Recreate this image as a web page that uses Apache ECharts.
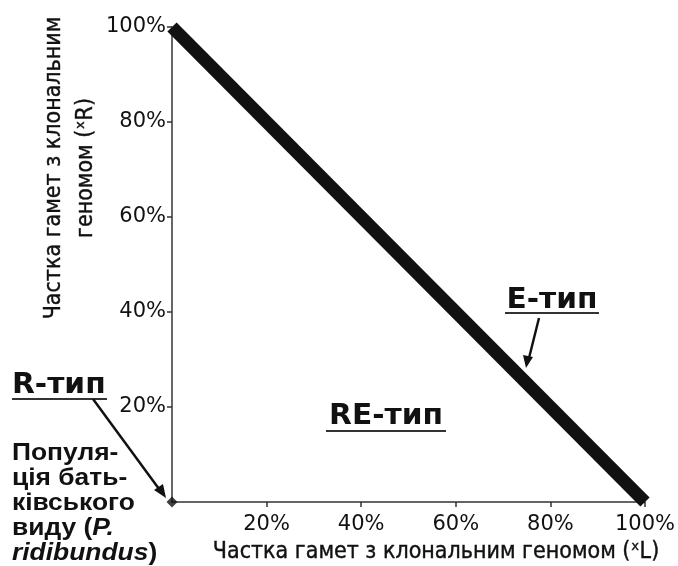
<!DOCTYPE html>
<html>
<head>
<meta charset="utf-8">
<script src="https://cdn.jsdelivr.net/npm/echarts@6/dist/echarts.min.js"></script>
<style>
  html, body { margin: 0; padding: 0; background: #fff; }
  #chart { width: 678px; height: 566px; }
</style>
</head>
<body>
<div id="chart"></div>
<script>
// Дані
const eLineX = [0, 100];
const eLineY = [100, 0];
const parentPoint = [0, 0];

const xAxisName = "Частка гамет з клональним геномом (ˣL)";
const yAxisLines = ["Частка гамет з клональним", "геномом (ˣR)"];

const condensed = "'Liberation Sans Narrow', 'DejaVu Sans Condensed', 'Arial Narrow', sans-serif";
const sans = "'Liberation Sans', Arial, Helvetica, sans-serif";
const wide = "'DejaVu Sans', Verdana, sans-serif";
const ink = "#111";

const chart = echarts.init(document.getElementById("chart"), null, { renderer: "canvas" });

// підпис-назва типу (жирний)
const typeLabel = (text, x, y, align) => ({
  type: "text",
  x: x,
  y: y,
  scaleX: 1.06,
  style: {
    text: text,
    font: "bold 28px " + wide,
    fill: ink,
    align: align,
    verticalAlign: "middle",
  },
});

const option = {
  animation: false,
  grid: {
    left: 172,
    right: 33,
    top: 27,
    bottom: 64,
    outerBoundsMode: "none",
  },
  xAxis: {
    type: "value",
    min: 0,
    max: 100,
    interval: 20,
    axisLine: { lineStyle: { color: "#333", width: 1.5 } },
    axisTick: { show: true, length: 5, lineStyle: { color: "#333", width: 1.5 } },
    splitLine: { show: false },
    axisLabel: {
      showMinLabel: false,
      formatter: "{value}%",
      color: ink,
      fontFamily: wide,
      fontSize: 21,
      margin: 12,
    },
  },
  yAxis: {
    type: "value",
    min: 0,
    max: 100,
    interval: 20,
    axisLine: { lineStyle: { color: "#333", width: 1.5 } },
    axisTick: { show: true, length: 5, lineStyle: { color: "#333", width: 1.5 } },
    splitLine: { show: false },
    axisLabel: {
      showMinLabel: false,
      formatter: "{value}%",
      color: ink,
      fontFamily: wide,
      fontSize: 21,
      margin: 6,
    },
  },
  series: [
    {
      // межа E-типу
      type: "line",
      data: eLineX.map((x, i) => [x, eLineY[i]]),
      symbol: "none",
      lineStyle: { color: "#111", width: 13, cap: "butt" },
      z: 3,
    },
    {
      // популяція батьківського виду
      type: "scatter",
      data: [parentPoint],
      symbol: "diamond",
      symbolSize: 11,
      itemStyle: { color: "#111" },
      z: 4,
    },
  ],
  graphic: [
    // назва осі Y (два рядки, повернуті)
    {
      type: "text",
      x: 54,
      y: 168,
      rotation: Math.PI / 2,
      style: {
        text: yAxisLines[0],
        font: "23px " + condensed,
        fill: ink,
        stroke: ink,
        lineWidth: 0.4,
        align: "center",
        verticalAlign: "middle",
      },
    },
    {
      type: "text",
      x: 86,
      y: 168,
      rotation: Math.PI / 2,
      style: {
        text: yAxisLines[1],
        font: "23px " + condensed,
        fill: ink,
        stroke: ink,
        lineWidth: 0.4,
        align: "center",
        verticalAlign: "middle",
      },
    },
    // назва осі X
    {
      type: "text",
      x: 436,
      y: 552,
      style: {
        text: xAxisName,
        font: "23px " + condensed,
        fill: ink,
        stroke: ink,
        lineWidth: 0.4,
        align: "center",
        verticalAlign: "middle",
      },
    },
    // R-тип
    typeLabel("R-тип", 12, 386, "left"),
    {
      type: "line",
      shape: { x1: 12, y1: 399, x2: 107, y2: 399 },
      style: { stroke: "#333", lineWidth: 2 },
    },
    {
      type: "line",
      shape: { x1: 93, y1: 399, x2: 162, y2: 493 },
      style: { stroke: "#111", lineWidth: 2.5 },
    },
    {
      type: "polygon",
      shape: { points: [[166, 498], [154, 490], [163, 484]] },
      style: { fill: "#111" },
    },
    // підпис популяції
    {
      type: "text",
      x: 12,
      y: 441,
      scaleX: 1.1,
      style: {
        text: "Популя-\nція бать-\nківського\nвиду ({i|P.}\n{i|ridibundus})",
        font: "bold 24px " + sans,
        fill: ink,
        lineHeight: 25,
        rich: {
          i: { fontStyle: "italic", fontWeight: "bold", fontSize: 24, fontFamily: sans, fill: ink, lineHeight: 25 },
        },
      },
    },
    // RE-тип
    typeLabel("RE-тип", 386, 417, "center"),
    {
      type: "line",
      shape: { x1: 326, y1: 431, x2: 446, y2: 431 },
      style: { stroke: "#333", lineWidth: 2 },
    },
    // E-тип
    typeLabel("E-тип", 552, 301, "center"),
    {
      type: "line",
      shape: { x1: 505, y1: 313, x2: 599, y2: 313 },
      style: { stroke: "#333", lineWidth: 2 },
    },
    {
      type: "line",
      shape: { x1: 539, y1: 318, x2: 529, y2: 358 },
      style: { stroke: "#111", lineWidth: 2.5 },
    },
    {
      type: "polygon",
      shape: { points: [[526, 368], [523, 355], [533, 357]] },
      style: { fill: "#111" },
    },
  ],
};

chart.setOption(option);
</script>
</body>
</html>
